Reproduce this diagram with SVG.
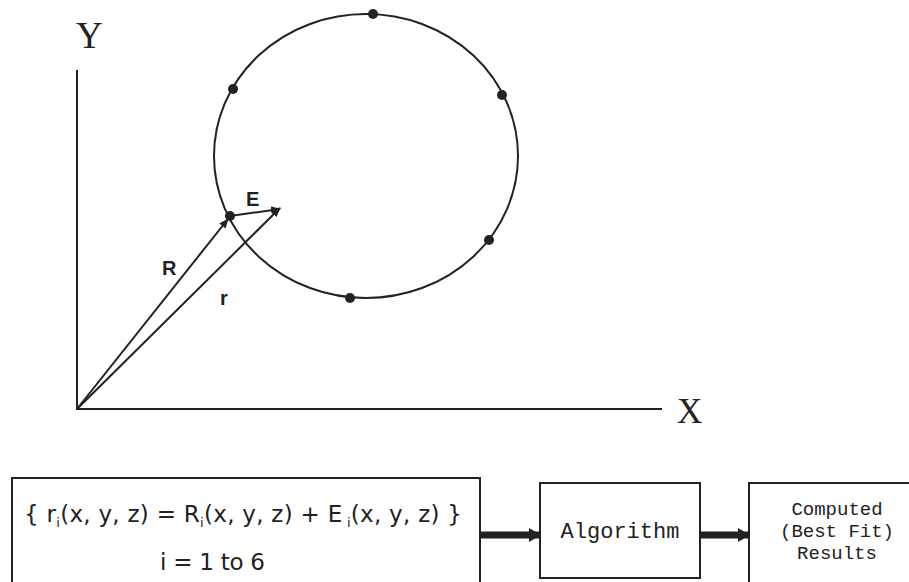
<svg xmlns="http://www.w3.org/2000/svg" width="909" height="582" viewBox="0 0 909 582">
<style>
.ln{stroke:#222;stroke-width:2;fill:none}
.dot{fill:#222}
.ax{font-family:"Liberation Serif",serif;fill:#222}
.lab{font-family:"Liberation Sans",sans-serif;font-weight:bold;font-size:20px;fill:#222}
.eq{font-family:"DejaVu Sans","Liberation Sans",sans-serif;font-size:23px;fill:#222}
.mono{font-family:"Liberation Mono",monospace;fill:#222}
.box{stroke:#222;stroke-width:2;fill:#fff}
</style>
<defs>
<marker id="ah" markerWidth="10" markerHeight="8" refX="9" refY="4" orient="auto" markerUnits="userSpaceOnUse">
<path d="M0,0 L10,4 L0,8 Z" fill="#222"/>
</marker>
<marker id="big" markerWidth="12" markerHeight="14" refX="11" refY="7" orient="auto" markerUnits="userSpaceOnUse">
<path d="M0,0 L12,7 L0,14 Z" fill="#222"/>
</marker>
</defs>
<g id="axes">
<line class="ln" x1="77" y1="70" x2="77" y2="410"/>
<line class="ln" x1="76" y1="409" x2="662" y2="409"/>
<text class="ax" x="76" y="48" font-size="37">Y</text>
<text class="ax" x="677" y="423" font-size="35">X</text>
</g>
<g id="circle">
<ellipse class="ln" cx="366" cy="156" rx="152" ry="142"/>
<circle class="dot" cx="373" cy="14" r="5"/>
<circle class="dot" cx="233" cy="89" r="5"/>
<circle class="dot" cx="502" cy="95" r="5"/>
<circle class="dot" cx="230" cy="216" r="5"/>
<circle class="dot" cx="489" cy="240" r="5"/>
<circle class="dot" cx="350" cy="298" r="5"/>
</g>
<g id="connectors">
<line class="ln" x1="77" y1="409" x2="228" y2="219" marker-end="url(#ah)"/>
<line class="ln" x1="77" y1="409" x2="280" y2="208" marker-end="url(#ah)"/>
<line class="ln" x1="230" y1="216" x2="280" y2="209" marker-end="url(#ah)"/>
<line stroke="#222" stroke-width="7" x1="480" y1="535" x2="540" y2="535" marker-end="url(#big)"/>
<line stroke="#222" stroke-width="7" x1="700" y1="535" x2="749" y2="535" marker-end="url(#big)"/>
</g>
<g id="vector-labels">
<text class="lab" x="246" y="206">E</text>
<text class="lab" x="162" y="275">R</text>
<text class="lab" x="220" y="305">r</text>
</g>
<g id="equation-box">
<rect class="box" x="12" y="478" width="468" height="110"/>
<text class="eq" x="24" y="522" textLength="438" lengthAdjust="spacing">{ r<tspan font-size="13" dy="5">i</tspan><tspan dy="-5">(x, y, z) = R</tspan><tspan font-size="13" dy="5">i</tspan><tspan dy="-5">(x, y, z) + E</tspan><tspan font-size="13" dy="5"> i</tspan><tspan dy="-5">(x, y, z) }</tspan></text>
<text class="eq" x="160" y="570" textLength="105" lengthAdjust="spacing">i = 1 to 6</text>
</g>
<g id="algorithm">
<rect class="box" x="540" y="483" width="160" height="95"/>
<text class="mono" x="620" y="538" text-anchor="middle" font-size="22">Algorithm</text>
</g>
<g id="results">
<rect class="box" x="749" y="483" width="170" height="110"/>
<text class="mono" x="837" y="515" text-anchor="middle" font-size="19">Computed</text>
<text class="mono" x="837" y="537" text-anchor="middle" font-size="19">(Best Fit)</text>
<text class="mono" x="837" y="559" text-anchor="middle" font-size="19">Results</text>
</g>
</svg>
